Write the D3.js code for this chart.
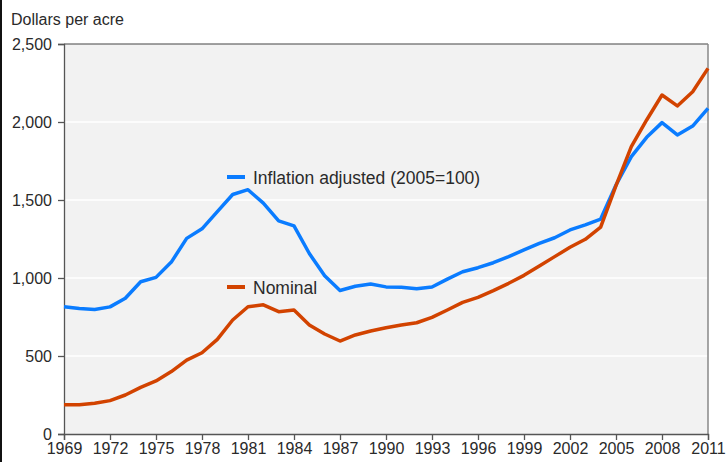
<!DOCTYPE html>
<html>
<head>
<meta charset="utf-8">
<script src="https://cdn.jsdelivr.net/npm/d3@7"></script>
<style>
  body { margin: 0; background: #fff; }
  svg { display: block; font-family: "Liberation Sans", Arial, sans-serif; }
</style>
</head>
<body>
<svg id="chart" width="726" height="462"></svg>
<script>
// data
const years = d3.range(1969, 2012);
const inflationAdjusted = [
  815, 805, 798, 815, 870, 976, 1004, 1102, 1254, 1315, 1425, 1535, 1566, 1480, 1366, 1334,
  1157, 1015, 920, 947, 961, 943, 940, 931, 942, 993, 1040, 1066, 1098, 1137, 1180, 1222,
  1258, 1308, 1340, 1378, 1596, 1778, 1902, 1996, 1917, 1974, 2088
];
const nominal = [
  187, 187, 197, 214, 250, 299, 340, 400, 474, 521, 607, 731, 816, 828, 784, 795,
  699, 641, 596, 635, 660, 681, 699, 713, 748, 795, 844, 876, 919, 966, 1017, 1077,
  1137, 1197, 1248, 1326, 1592, 1842, 2013, 2173, 2103, 2194, 2344
];
const yTicks = [0, 500, 1000, 1500, 2000, 2500];
const xTicks = d3.range(1969, 2012, 3);
const seriesNames = ["Inflation adjusted (2005=100)", "Nominal"];
const seriesColors = ["#0a7cff", "#d24300"];

const svg = d3.select("#chart");
const margin = {top: 44, right: 18, bottom: 28, left: 64};
const W = 726, H = 462;
const x = d3.scaleLinear().domain([1969, 2011]).range([margin.left, W - margin.right]);
const y = d3.scaleLinear().domain([0, 2500]).range([H - margin.bottom, margin.top]);

// left frame edge of the original figure
svg.append("line").attr("x1", 1).attr("x2", 1).attr("y1", 0).attr("y2", H)
  .attr("stroke", "#111").attr("stroke-width", 2);

// plot background
svg.append("rect")
  .attr("x", x(1969)).attr("y", y(2500))
  .attr("width", x(2011) - x(1969)).attr("height", y(0) - y(2500))
  .attr("fill", "#f2f2f2");

// white gridlines
svg.append("g").selectAll("line")
  .data(yTicks.filter(d => d > 0 && d < 2500))
  .enter().append("line")
  .attr("x1", x(1969)).attr("x2", x(2011))
  .attr("y1", d => y(d)).attr("y2", d => y(d))
  .attr("stroke", "#fff").attr("stroke-width", 1.5);

// top and right border
svg.append("line").attr("x1", x(1969)).attr("x2", x(2011))
  .attr("y1", y(2500)).attr("y2", y(2500)).attr("stroke", "#444").attr("stroke-width", 1.2);
svg.append("line").attr("x1", x(2011)).attr("x2", x(2011))
  .attr("y1", y(2500)).attr("y2", y(0)).attr("stroke", "#888").attr("stroke-width", 1.5);

// axes
const yAxis = svg.append("g")
  .attr("transform", `translate(${x(1969)},0)`)
  .call(d3.axisLeft(y).tickValues(yTicks).tickFormat(d3.format(",")).tickSize(6).tickPadding(6));
const xAxis = svg.append("g")
  .attr("transform", `translate(0,${y(0)})`)
  .call(d3.axisBottom(x).tickValues(xTicks).tickFormat(d3.format("d")).tickSize(6).tickPadding(3));

[yAxis, xAxis].forEach(g => {
  g.select(".domain").attr("stroke", "#555").attr("stroke-width", 1.3);
  g.selectAll(".tick line").attr("stroke", "#555").attr("stroke-width", 1.3);
  g.selectAll(".tick text").attr("fill", "#2a2a2a").style("font-size", "16px")
    .style("font-family", "\"Liberation Sans\", Arial, sans-serif");
});

// unit label
svg.append("text").attr("x", 11).attr("y", 25)
  .attr("fill", "#2a2a2a").style("font-size", "16px")
  .text("Dollars per acre");

// lines
const line = d3.line().x((d, i) => x(years[i])).y(d => y(d));
[inflationAdjusted, nominal].forEach((s, i) => {
  svg.append("path").datum(s)
    .attr("fill", "none")
    .attr("stroke", seriesColors[i])
    .attr("stroke-width", 3.5)
    .attr("stroke-linejoin", "round")
    .attr("d", line);
});

// legend labels placed inside the plot
const legendY = [177, 287];
seriesNames.forEach((name, i) => {
  svg.append("line")
    .attr("x1", 227).attr("x2", 245)
    .attr("y1", legendY[i]).attr("y2", legendY[i])
    .attr("stroke", seriesColors[i]).attr("stroke-width", 4);
  svg.append("text")
    .attr("x", 253).attr("y", legendY[i] + 6.5)
    .attr("fill", "#2a2a2a").style("font-size", "17.5px")
    .text(name);
});
</script>
</body>
</html>
